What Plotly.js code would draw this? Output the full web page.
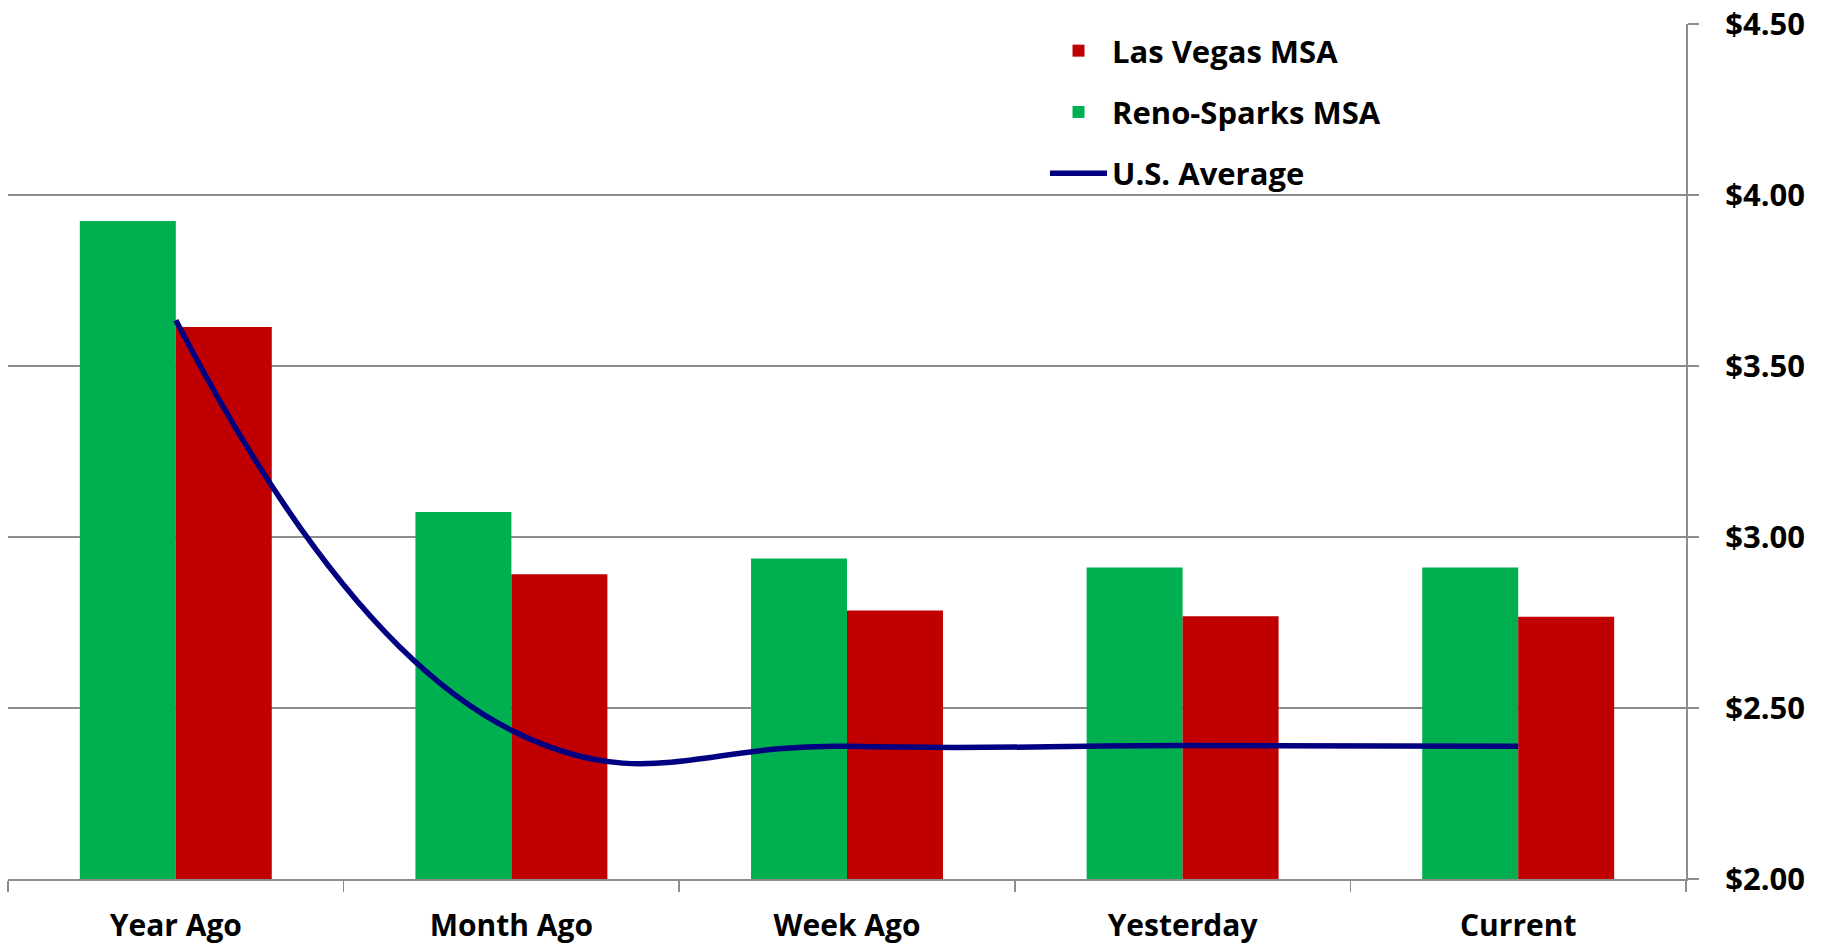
<!DOCTYPE html>
<html>
<head>
<meta charset="utf-8">
<script src="https://cdn.plot.ly/plotly-3.0.1.min.js"></script>
<style>
  html, body { margin: 0; padding: 0; background: #ffffff; }
  #chart { width: 1825px; height: 946px; }
</style>
</head>
<body>
<div id="chart"></div>
<script>
const categories = ['Year Ago', 'Month Ago', 'Week Ago', 'Yesterday', 'Current'];
const renoSparks = [3.924, 3.073, 2.937, 2.911, 2.911];
const lasVegas = [3.614, 2.891, 2.785, 2.768, 2.767];
const usAverage = [3.634, 2.435, 2.388, 2.390, 2.388];
const yTickVals = [2.0, 2.5, 3.0, 3.5, 4.0, 4.5];
const yTickText = ['$2.00', '$2.50', '$3.00', '$3.50', '$4.00', '$4.50'];

const FONT = 'Open Sans, Noto Sans, DejaVu Sans, sans-serif';
const GRID = '#8c8c8c';

const traces = [
  {
    type: 'bar', name: 'Reno-Sparks MSA', x: categories, y: renoSparks,
    marker: { color: '#00B050', line: { width: 0 } },
    legendgroup: 'g2', legendrank: 2, hoverinfo: 'skip'
  },
  {
    type: 'bar', name: 'Las Vegas MSA', x: categories, y: lasVegas,
    marker: { color: '#C00000', line: { width: 0 } },
    legendgroup: 'g1', legendrank: 1, hoverinfo: 'skip'
  },
  {
    type: 'scatter', mode: 'lines', name: 'U.S. Average', x: categories, y: usAverage,
    line: { color: '#000080', width: 5.5, shape: 'spline', smoothing: 1.3 },
    legendgroup: 'g3', legendrank: 3, hoverinfo: 'skip'
  }
];

const layout = {
  width: 1825, height: 946,
  margin: { l: 8, r: 139, t: 24, b: 67, pad: 0 },
  paper_bgcolor: '#ffffff', plot_bgcolor: '#ffffff',
  font: { family: FONT, size: 31, color: '#000000', weight: 'bold' },
  barmode: 'group', bargap: 0.428, bargroupgap: 0,
  showlegend: true,
  legend: {
    x: 0.618, xanchor: 'left', y: 1.0, yanchor: 'top',
    bgcolor: 'rgba(0,0,0,0)', borderwidth: 0,
    font: { family: FONT, size: 31, color: '#000000', weight: 'bold' },
    traceorder: 'grouped', tracegroupgap: 18, itemwidth: 57
  },
  xaxis: {
    type: 'category',
    showgrid: false, zeroline: false,
    showline: true, linecolor: GRID, linewidth: 2,
    ticks: 'outside', tickson: 'boundaries', ticklen: 11, tickwidth: 1.5, tickcolor: GRID,
    tickfont: { family: FONT, size: 30, color: '#000000', weight: 'bold' },
    ticklabelstandoff: 19,
    fixedrange: true
  },
  yaxis: {
    side: 'right',
    range: [2, 4.5],
    tickmode: 'array', tickvals: yTickVals, ticktext: yTickText,
    showgrid: true, gridcolor: GRID, gridwidth: 2,
    zeroline: false,
    showline: true, linecolor: GRID, linewidth: 2,
    ticks: 'outside', ticklen: 11, tickwidth: 2, tickcolor: GRID,
    tickfont: { family: FONT, size: 31, color: '#000000', weight: 'bold' },
    ticklabelstandoff: 20,
    fixedrange: true
  }
};

Plotly.newPlot('chart', traces, layout, { displayModeBar: false, staticPlot: true });
</script>
</body>
</html>
